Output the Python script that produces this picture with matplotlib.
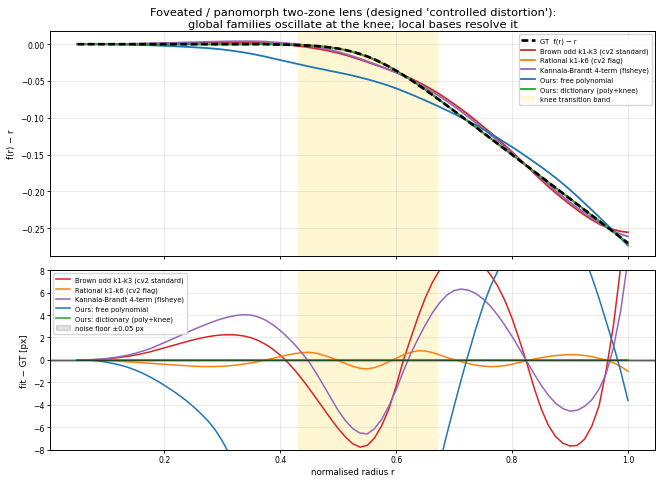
import numpy as np
import matplotlib.pyplot as plt
from matplotlib.patches import Patch

# sample radii (normalised), step 0.0125
r = np.linspace(0.05, 1.0, 77)

# ground truth f(r) - r
gt = [0.0] * 27 + [
    -0.0004, -0.0006, -0.0008, -0.0010, -0.0014, -0.0019, -0.0026, -0.0034,
    -0.0046, -0.0060, -0.0079, -0.0103, -0.0132, -0.0166, -0.0207, -0.0253,
    -0.0304, -0.0360, -0.0421, -0.0484, -0.0551, -0.0619, -0.0689, -0.0760,
    -0.0833, -0.0906, -0.0979, -0.1053, -0.1127, -0.1202, -0.1276, -0.1351,
    -0.1426, -0.1500, -0.1575, -0.1650, -0.1725, -0.1800, -0.1875, -0.1950,
    -0.2025, -0.2100, -0.2175, -0.2250, -0.2325, -0.2400, -0.2475, -0.2550,
    -0.2625, -0.2700]

# residuals fit - GT, in pixels
res_brown = [
    0.0, 0.005, 0.02, 0.05, 0.1, 0.16, 0.24, 0.33, 0.44, 0.57,
    0.72, 0.9, 1.08, 1.26, 1.44, 1.62, 1.79, 1.94, 2.07, 2.17,
    2.23, 2.25, 2.22, 2.13, 1.97, 1.72, 1.38, 0.95, 0.42, -0.2,
    -0.9, -1.7, -2.55, -3.45, -4.35, -5.25, -6.1, -6.85, -7.45, -7.75,
    -7.6, -6.95, -5.85, -4.35, -2.3, 0.0, 1.9, 3.8, 5.5, 6.9,
    8.0, 8.8, 9.3, 9.5, 9.4, 9.0, 8.4, 7.6, 6.6, 5.3,
    3.7, 1.8, -0.2, -2.4, -4.3, -5.8, -6.8, -7.4, -7.65, -7.6,
    -7.05, -5.9, -4.1, -0.9, 3.1, 8.3, 14.5]
res_rational = [
    0.0, -0.003, -0.01, -0.03, -0.05, -0.08, -0.12, -0.16, -0.2, -0.25,
    -0.29, -0.34, -0.38, -0.43, -0.47, -0.51, -0.55, -0.58, -0.59, -0.58,
    -0.56, -0.51, -0.45, -0.36, -0.26, -0.14, 0.0, 0.15, 0.3, 0.44,
    0.57, 0.65, 0.68, 0.6, 0.42, 0.2, -0.05, -0.32, -0.56, -0.74,
    -0.79, -0.68, -0.45, -0.15, 0.15, 0.45, 0.68, 0.82, 0.8, 0.66,
    0.45, 0.22, 0.03, -0.15, -0.32, -0.46, -0.55, -0.59, -0.57, -0.5,
    -0.38, -0.22, -0.06, 0.08, 0.2, 0.31, 0.39, 0.45, 0.47, 0.46,
    0.4, 0.3, 0.15, -0.02, -0.25, -0.58, -1.0]
res_kb = [
    0.0, 0.008, 0.03, 0.07, 0.13, 0.21, 0.31, 0.44, 0.6, 0.79,
    1.0, 1.27, 1.55, 1.83, 2.12, 2.41, 2.7, 2.97, 3.23, 3.47,
    3.68, 3.85, 3.97, 4.03, 3.99, 3.82, 3.53, 3.12, 2.62, 2.02,
    1.37, 0.62, -0.2, -1.2, -2.3, -3.4, -4.5, -5.4, -6.1, -6.5,
    -6.57, -6.12, -5.27, -4.08, -2.64, -1.0, 0.55, 1.86, 3.09, 4.19,
    5.09, 5.77, 6.18, 6.31, 6.2, 5.91, 5.43, 4.8, 4.0, 3.09,
    2.09, 1.01, -0.09, -1.19, -2.23, -3.13, -3.84, -4.32, -4.55, -4.47,
    -4.13, -3.55, -2.6, -1.2, 1.1, 4.4, 8.9]
res_free = [
    0.0, -0.005, -0.03, -0.09, -0.2, -0.32, -0.47, -0.66, -0.9, -1.18,
    -1.5, -1.86, -2.25, -2.67, -3.12, -3.6, -4.15, -4.75, -5.4, -6.2,
    -7.2, -8.4, -9.8, -11.3, -13.0, -15.0, -17.0, -19.0, -21.0, -23.0,
    -25.0, -26.8, -28.5, -29.9, -31.0, -31.9, -32.4, -32.6, -32.4, -31.9,
    -31.0, -29.7, -28.0, -26.1, -24.0, -21.8, -19.5, -17.0, -14.4, -11.8,
    -9.2, -6.6, -4.1, -1.7, 0.6, 2.8, 4.8, 6.5, 7.9, 9.2,
    10.4, 11.4, 12.2, 12.8, 13.5, 13.7, 13.6, 13.1, 12.2, 10.8,
    9.1, 7.4, 5.5, 3.4, 1.3, -1.0, -3.6]
res_dict = [0.0] * 77

PX = 1000.0  # pixels per normalised radius unit

names = ["Brown odd k1-k3 (cv2 standard)", "Rational k1-k6 (cv2 flag)",
         "Kannala-Brandt 4-term (fisheye)", "Ours: free polynomial",
         "Ours: dictionary (poly+knee)"]
colors = ["tab:red", "tab:orange", "tab:purple", "tab:blue", "tab:green"]
residuals = [res_brown, res_rational, res_kb, res_free, res_dict]

knee = (0.43, 0.67)
band_color = "#fff6d4"

plt.rcParams.update({
    "xtick.major.size": 2.5, "ytick.major.size": 2.5,
    "xtick.major.width": 0.6, "ytick.major.width": 0.6,
    "xtick.major.pad": 1.5, "ytick.major.pad": 1.5,
    "xtick.labelsize": 5.6, "ytick.labelsize": 5.6,
    "axes.linewidth": 0.7,
})

fig, (ax1, ax2) = plt.subplots(2, 1, figsize=(6.57, 4.81), sharex=True,
                               gridspec_kw={"height_ratios": [5, 4]})
fig.subplots_adjust(left=0.076, right=0.9977, top=0.9335, bottom=0.0625, hspace=0.07)

gt = np.array(gt)

# top: the curves themselves
ax1.axvspan(*knee, color=band_color, zorder=0)
handles = []
h, = ax1.plot(r, gt, color="k", lw=1.9, dashes=(2.6, 1.3), zorder=5,
              label="GT  f(r) \u2212 r")
handles.append(h)
for name, c, res in zip(names, colors, residuals):
    h, = ax1.plot(r, gt + np.array(res) / PX, color=c, lw=1.3, label=name)
    handles.append(h)
handles.append(Patch(facecolor=band_color, label="knee transition band"))
ax1.legend(handles=handles, loc="upper right", fontsize=4.9)
ax1.set_ylabel("f(r) \u2212 r", fontsize=6.2, labelpad=3)
ax1.grid(alpha=0.3, lw=0.6)
ax1.set_title("Foveated / panomorph two-zone lens (designed 'controlled distortion'):\n"
              "global families oscillate at the knee; local bases resolve it",
              fontsize=8.2, pad=3)

# bottom: residuals in px
ax2.axvspan(*knee, color=band_color, zorder=0)
ax2.axhspan(-0.05, 0.05, color="gray", alpha=0.25, label="noise floor \u00b10.05 px")
for name, c, res in zip(names, colors, residuals):
    ax2.plot(r, res, color=c, lw=1.1, label=name)
ax2.axhline(0, color="k", lw=1, alpha=0.55, zorder=4)
h2, l2 = ax2.get_legend_handles_labels()
order = [l2.index(n) for n in names] + [l2.index("noise floor \u00b10.05 px")]
ax2.legend([h2[i] for i in order], [l2[i] for i in order], loc="upper left", fontsize=4.9)
ax2.set_ylim(-8, 8)
ax2.set_ylabel("fit \u2212 GT [px]", fontsize=6.2, labelpad=3)
ax2.set_xlabel("normalised radius r", fontsize=6.2, labelpad=2)
ax2.grid(alpha=0.3, lw=0.6)

fig.savefig("out.png", dpi=100)
